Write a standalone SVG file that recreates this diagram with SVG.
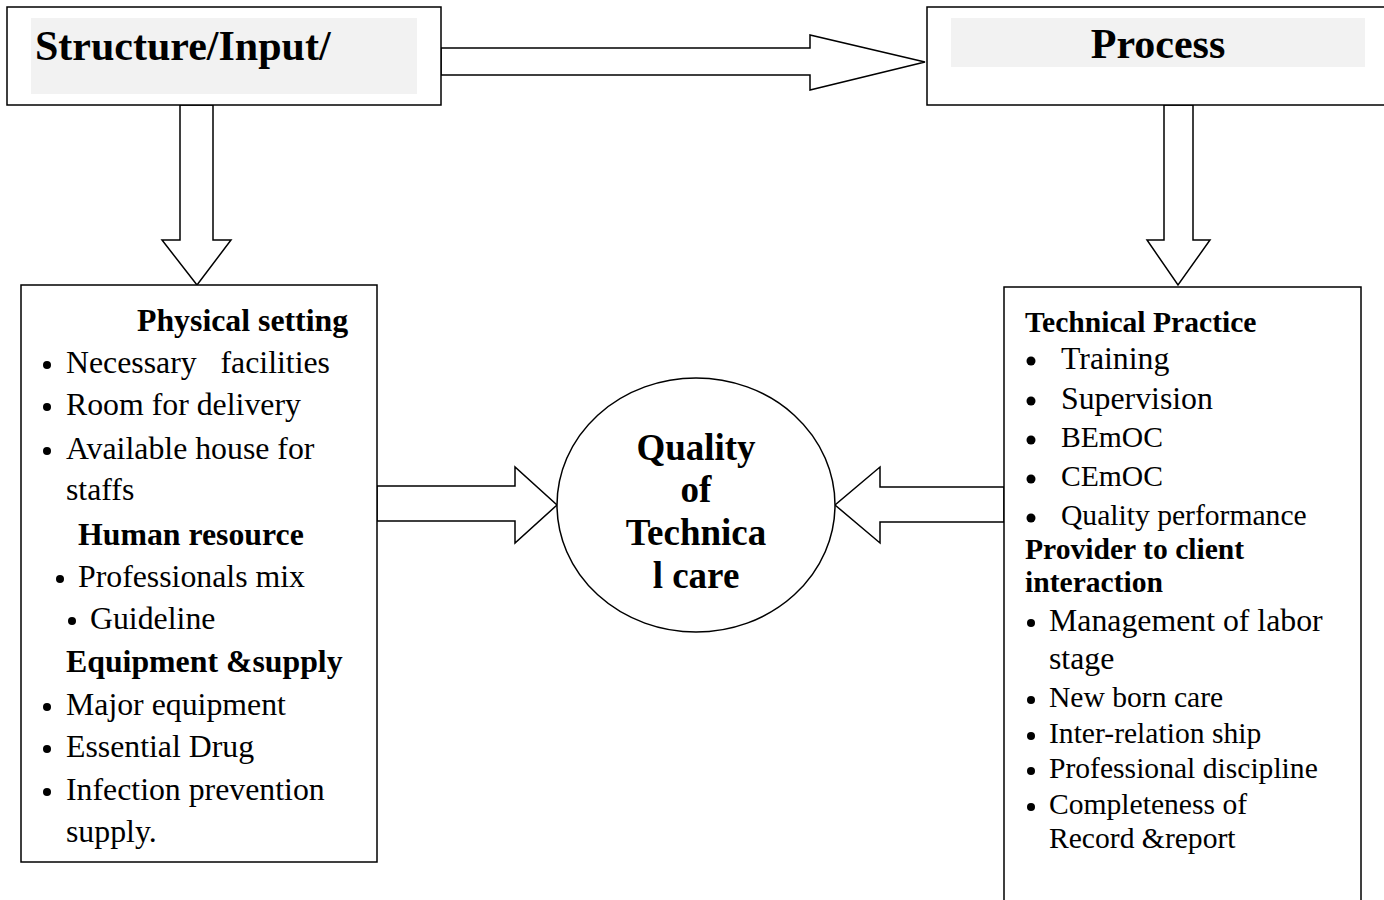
<svg xmlns="http://www.w3.org/2000/svg" width="1384" height="900" viewBox="0 0 1384 900">
<style>
.box{fill:#fff;stroke:#000;stroke-width:1.5}
.arr{fill:#fff;stroke:#000;stroke-width:1.5;stroke-linejoin:miter}
.dot{fill:#000}
text{font-family:"Liberation Serif","Times New Roman",serif;fill:#000}
.b{font-weight:bold}
.t32{font-size:31.8px}
.t30{font-size:29.6px}
.hd{font-size:42px;font-weight:bold}
.c{font-size:37px;font-weight:bold;text-anchor:middle}
</style>
<rect width="1384" height="900" fill="#fff"/>
<g id="connectors">
<path class="arr" d="M441,48 H810 V35 L925,62 L810,90 V75 H441 Z"/>
<path class="arr" d="M180,105 H213 V240 H231 L197,285 L162,240 H180 Z"/>
<path class="arr" d="M1164,105 H1193 V240 H1210 L1178,285 L1147,240 H1164 Z"/>
<path class="arr" d="M377,486 H515 V467 L557,505 L515,543 V521 H377 Z"/>
<path class="arr" d="M1004,487 H880 V467 L835,505 L880,543 V522 H1004 Z"/>
</g>
<g id="structure">
<rect class="box" x="7" y="7" width="434" height="98"/>
<rect x="31" y="18" width="386" height="76" fill="#f2f2f2"/>
<text class="hd" x="35" y="60">Structure/Input/</text>
</g>
<g id="process">
<rect class="box" x="927" y="7" width="470" height="98"/>
<rect x="951" y="18" width="414" height="49" fill="#f2f2f2"/>
<text class="hd" x="1158" y="58" text-anchor="middle">Process</text>
</g>
<g id="quality">
<ellipse class="box" cx="696" cy="505" rx="139" ry="127"/>
<text class="c" x="696" y="460">Quality</text>
<text class="c" x="696" y="502">of</text>
<text class="c" x="696" y="545">Technica</text>
<text class="c" x="696" y="588">l care</text>
</g>
<g id="inputs">
<rect class="box" x="21" y="285" width="356" height="577"/>
<text class="t32 b" x="137" y="331">Physical setting</text>
<g class="t32">
<circle class="dot" cx="47" cy="365" r="4"/><text x="66" y="373" xml:space="preserve">Necessary   facilities</text>
<circle class="dot" cx="47" cy="407" r="4"/><text x="66" y="415">Room for delivery</text>
<circle class="dot" cx="47" cy="451" r="4"/><text x="66" y="459">Available house for</text>
<text x="66" y="500">staffs</text>
</g>
<text class="t32 b" x="78" y="545">Human resource</text>
<g class="t32">
<circle class="dot" cx="60" cy="579" r="4"/><text x="78" y="587">Professionals mix</text>
<circle class="dot" cx="72" cy="621" r="4"/><text x="90" y="629">Guideline</text>
</g>
<text class="t32 b" x="66" y="672">Equipment &amp;supply</text>
<g class="t32">
<circle class="dot" cx="47" cy="707" r="4"/><text x="66" y="715">Major equipment</text>
<circle class="dot" cx="47" cy="749" r="4"/><text x="66" y="757">Essential Drug</text>
<circle class="dot" cx="47" cy="792" r="4"/><text x="66" y="800">Infection prevention</text>
<text x="66" y="842">supply.</text>
</g>
</g>
<g id="process-detail">
<rect class="box" x="1004" y="287" width="357" height="630"/>
<text class="t30 b" x="1025" y="332">Technical Practice</text>
<circle class="dot" cx="1031" cy="361" r="4.5"/><text class="t32" x="1061" y="369">Training</text>
<circle class="dot" cx="1031" cy="401" r="4.5"/><text class="t32" x="1061" y="409">Supervision</text>
<circle class="dot" cx="1031" cy="440" r="4.5"/><text class="t30" x="1061" y="447">BEmOC</text>
<circle class="dot" cx="1031" cy="479" r="4.5"/><text class="t30" x="1061" y="486">CEmOC</text>
<circle class="dot" cx="1031" cy="518" r="4.5"/><text class="t30" x="1061" y="525">Quality performance</text>
<text class="t30 b" x="1025" y="559">Provider to client</text>
<text class="t30 b" x="1025" y="592">interaction</text>
<circle class="dot" cx="1031" cy="623" r="4"/><text class="t32" x="1049" y="631">Management of labor</text>
<text class="t32" x="1049" y="669">stage</text>
<circle class="dot" cx="1031" cy="700" r="4"/><text class="t30" x="1049" y="707">New born care</text>
<circle class="dot" cx="1031" cy="736" r="4"/><text class="t30" x="1049" y="743">Inter-relation ship</text>
<circle class="dot" cx="1031" cy="771" r="4"/><text class="t30" x="1049" y="778">Professional discipline</text>
<circle class="dot" cx="1031" cy="807" r="4"/><text class="t30" x="1049" y="814">Completeness of</text>
<text class="t30" x="1049" y="848">Record &amp;report</text>
</g>
</svg>
